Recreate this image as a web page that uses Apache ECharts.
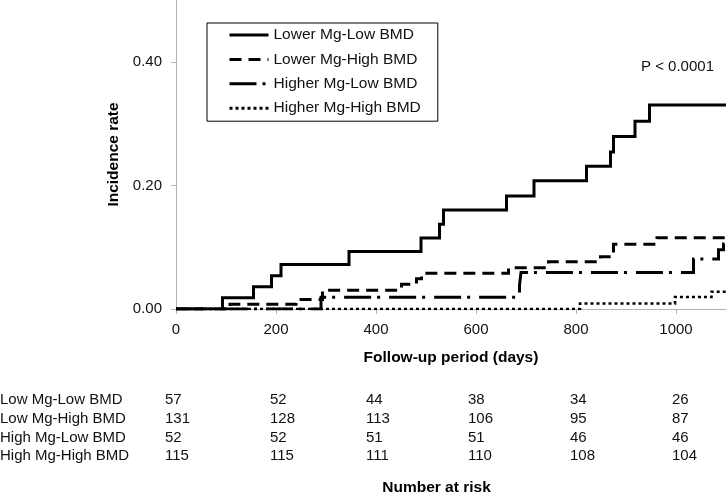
<!DOCTYPE html>
<html><head><meta charset="utf-8">
<script src="https://cdn.jsdelivr.net/npm/echarts@6/dist/echarts.min.js"></script>
<style>html,body{margin:0;padding:0;background:#fff}#c{width:728px;height:498px}</style>
</head><body><div id="c"></div>
<script>
// ---- data ----
const seriesNames = ['Lower Mg-Low BMD', 'Lower Mg-High BMD', 'Higher Mg-Low BMD', 'Higher Mg-High BMD'];
const lowMgLowBmdDays = [0, 93, 155, 191, 210, 346, 490, 527, 535, 661, 716, 821, 869, 875, 918, 947, 1100];
const lowMgLowBmdRate = [0, 0.0183, 0.036, 0.054, 0.072, 0.093, 0.115, 0.137, 0.160, 0.183, 0.2075, 0.231, 0.254, 0.279, 0.304, 0.330, 0.330];
const lowMgHighBmdDays = [0, 108, 240, 293, 451, 481, 491, 665, 745, 849, 875, 962, 1100];
const lowMgHighBmdRate = [0, 0.0076, 0.0153, 0.0305, 0.040, 0.049, 0.0577, 0.0668, 0.0765, 0.0846, 0.1046, 0.1153, 0.1153];
const highMgLowBmdDays = [0, 290, 687, 690, 1035, 1085, 1095, 1100];
const highMgLowBmdRate = [0, 0.0192, 0.039, 0.059, 0.081, 0.096, 0.105, 0.105];
const highMgHighBmdDays = [0, 808, 998, 1071, 1100];
const highMgHighBmdRate = [0, 0.0089, 0.0195, 0.028, 0.028];
const xTickValues = [0, 200, 400, 600, 800, 1000];
const yTickValues = [0, 0.2, 0.4];
const riskGroups = ['Low Mg-Low BMD', 'Low Mg-High BMD', 'High Mg-Low BMD', 'High Mg-High BMD'];
const riskLowLow = [57, 52, 44, 38, 34, 26];
const riskLowHigh = [131, 128, 113, 106, 95, 87];
const riskHighLow = [52, 52, 51, 51, 46, 46];
const riskHighHigh = [115, 115, 111, 110, 108, 104];
const pValueText = 'P < 0.0001';
const xAxisTitle = 'Follow-up period (days)';
const yAxisTitle = 'Incidence rate';
const riskTitle = 'Number at risk';

// ---- layout / style ----
const FONT = '"Liberation Sans", Arial, sans-serif';
const lineDashes = ['solid', [12, 7], [27, 6, 3, 9], [3, 3]];
const riskRowsY = [400, 419, 437.5, 456];
const riskColX = [165, 270, 366, 468, 570, 672];

const zip = (a, b) => a.map((v, i) => [v, b[i]]);
const curves = [
  zip(lowMgLowBmdDays, lowMgLowBmdRate),
  zip(lowMgHighBmdDays, lowMgHighBmdRate),
  zip(highMgLowBmdDays, highMgLowBmdRate),
  zip(highMgHighBmdDays, highMgHighBmdRate)
];
const riskTable = [riskLowLow, riskLowHigh, riskHighLow, riskHighHigh];

const graphics = [];
graphics.push({type: 'text', left: 641, top: 59, style: {text: pValueText, font: '15px ' + FONT, fill: '#111'}});
riskGroups.forEach((g, r) => {
  graphics.push({type: 'text', x: 0, y: riskRowsY[r], style: {text: g, font: '15px ' + FONT, fill: '#111', textVerticalAlign: 'middle'}});
  riskTable[r].forEach((n, c) => {
    graphics.push({type: 'text', x: riskColX[c], y: riskRowsY[r], style: {text: String(n), font: '15px ' + FONT, fill: '#111', textVerticalAlign: 'middle'}});
  });
});
graphics.push({type: 'text', x: 436.5, y: 488, style: {text: riskTitle, font: 'bold 15.5px ' + FONT, fill: '#000', textAlign: 'center', textVerticalAlign: 'middle'}});

const chart = echarts.init(document.getElementById('c'), null, {renderer: 'canvas'});
chart.setOption({
  animation: false,
  backgroundColor: '#fff',
  textStyle: {fontFamily: FONT},
  grid: {left: 176, right: 2, top: 0, bottom: 189, containLabel: false},
  legend: {
    show: true, orient: 'vertical', left: 207, top: 23,
    padding: [4, 17, 5, 21], itemWidth: 39, itemHeight: 18, itemGap: 8.4,
    borderColor: '#000', borderWidth: 1, selectedMode: false,
    textStyle: {fontSize: 15.5, color: '#111', fontFamily: FONT},
    lineStyle: {width: 3},
    itemStyle: {opacity: 0},
    data: seriesNames
  },
  xAxis: {
    type: 'value', min: 0, max: 1100,
    name: xAxisTitle, nameLocation: 'middle', nameGap: 41,
    nameTextStyle: {fontSize: 15.5, fontWeight: 'bold', color: '#000', fontFamily: FONT},
    axisLine: {show: true, lineStyle: {color: '#b4b4b4', width: 1}},
    axisTick: {show: true, length: 5, customValues: xTickValues, lineStyle: {color: '#b4b4b4'}},
    axisLabel: {customValues: xTickValues, fontSize: 15, color: '#111', margin: 13, fontFamily: FONT,
      formatter: v => String(v)},
    splitLine: {show: false}
  },
  yAxis: {
    type: 'value', min: 0, max: 0.5,
    name: yAxisTitle, nameLocation: 'middle', nameGap: 50, nameRotate: 90,
    nameTextStyle: {fontSize: 15.5, fontWeight: 'bold', color: '#000', fontFamily: FONT},
    axisLine: {show: true, lineStyle: {color: '#b4b4b4', width: 1}},
    axisTick: {show: true, length: 5, customValues: yTickValues, lineStyle: {color: '#b4b4b4'}},
    axisLabel: {customValues: yTickValues, fontSize: 15, color: '#111', margin: 14, fontFamily: FONT,
      formatter: v => v.toFixed(2)},
    splitLine: {show: false}
  },
  series: curves.map((d, i) => ({
    type: 'line', name: seriesNames[i], data: d, step: 'end',
    symbol: 'none', showSymbol: false, silent: true,
    lineStyle: {color: '#000', width: i === 3 ? 2.6 : 3, type: lineDashes[i], cap: 'butt', join: 'miter'},
    itemStyle: {color: '#000'}
  })),
  graphic: graphics
});
</script>
</body></html>
